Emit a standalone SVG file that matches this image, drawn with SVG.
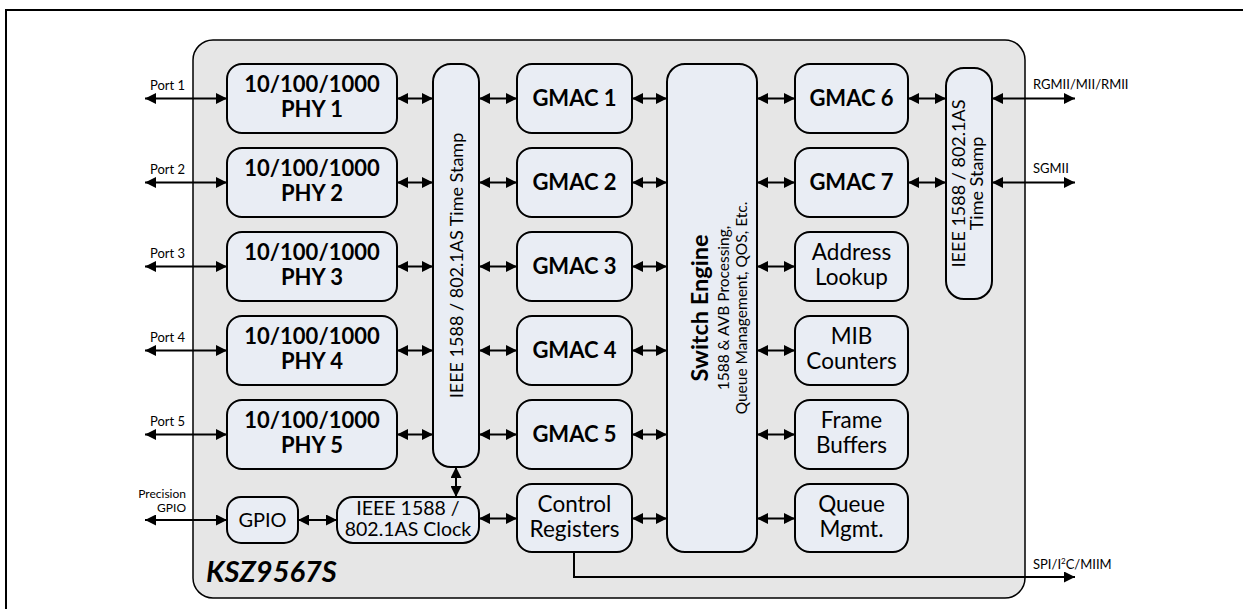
<svg xmlns="http://www.w3.org/2000/svg" width="1243" height="609" viewBox="0 0 1243 609">
<defs>
<marker id="ah" markerUnits="userSpaceOnUse" markerWidth="11" markerHeight="11" refX="10" refY="5" orient="auto-start-reverse" viewBox="0 0 10 10">
<path d="M0,0 L10,5 L0,10 z" fill="#000"/>
</marker>
</defs>
<style>
.box{fill:#e9edf4;stroke:#000;stroke-width:2}
.chip{fill:#e6e6e6;stroke:#000;stroke-width:1.5}
.c{stroke:#000;stroke-width:2;fill:none}
.dbl{marker-start:url(#ah);marker-end:url(#ah)}
.one{marker-end:url(#ah)}
text{font-family:Lato,"Open Sans","Liberation Sans",sans-serif;fill:#000}
.b{font-weight:bold;font-size:22px;text-anchor:middle}
.r{font-size:22.5px;text-anchor:middle}
.s{font-size:13px}
.v{font-size:18px;text-anchor:middle}
</style>
<rect width="1243" height="609" fill="#fff"/>
<path d="M6,609 V10 H1243" fill="none" stroke="#000" stroke-width="2"/>
<g id="chip"><rect class="chip" x="193" y="40" width="832" height="558" rx="20"/>
<text x="206" y="582" style="font-weight:bold;font-style:italic;font-size:29px">KSZ9567S</text></g>

<g id="phy1"><rect class="box" x="227" y="64" width="170" height="69" rx="15"/><text class="b" x="312" y="92">10/100/1000</text><text class="b" x="312" y="117">PHY 1</text></g>
<g id="phy2"><rect class="box" x="227" y="148" width="170" height="69" rx="15"/><text class="b" x="312" y="176">10/100/1000</text><text class="b" x="312" y="201">PHY 2</text></g>
<g id="phy3"><rect class="box" x="227" y="232" width="170" height="69" rx="15"/><text class="b" x="312" y="260">10/100/1000</text><text class="b" x="312" y="285">PHY 3</text></g>
<g id="phy4"><rect class="box" x="227" y="316" width="170" height="69" rx="15"/><text class="b" x="312" y="344">10/100/1000</text><text class="b" x="312" y="369">PHY 4</text></g>
<g id="phy5"><rect class="box" x="227" y="400" width="170" height="69" rx="15"/><text class="b" x="312" y="428">10/100/1000</text><text class="b" x="312" y="453">PHY 5</text></g>

<g id="ts1"><rect class="box" x="433" y="64" width="46" height="403" rx="18"/><text class="v" transform="translate(462.5,265.5) rotate(-90)">IEEE 1588 / 802.1AS Time Stamp</text></g>

<g id="gmac1"><rect class="box" x="517" y="64" width="115" height="69" rx="15"/><text class="b" x="574.5" y="106">GMAC 1</text></g>
<g id="gmac2"><rect class="box" x="517" y="148" width="115" height="69" rx="15"/><text class="b" x="574.5" y="190">GMAC 2</text></g>
<g id="gmac3"><rect class="box" x="517" y="232" width="115" height="69" rx="15"/><text class="b" x="574.5" y="274">GMAC 3</text></g>
<g id="gmac4"><rect class="box" x="517" y="316" width="115" height="69" rx="15"/><text class="b" x="574.5" y="358">GMAC 4</text></g>
<g id="gmac5"><rect class="box" x="517" y="400" width="115" height="69" rx="15"/><text class="b" x="574.5" y="442">GMAC 5</text></g>
<g id="ctrl"><rect class="box" x="517" y="484" width="115" height="68" rx="15"/><text class="r" x="574.5" y="512">Control</text><text class="r" x="574.5" y="537">Registers</text></g>

<g id="switch"><rect class="box" x="667" y="64" width="90" height="488" rx="18"/>
<text transform="translate(708,308) rotate(-90)" style="font-weight:bold;font-size:23.5px;text-anchor:middle">Switch Engine</text>
<text transform="translate(728.5,308) rotate(-90)" style="font-size:15.5px;text-anchor:middle">1588 &amp; AVB Processing,</text>
<text transform="translate(746.5,308) rotate(-90)" style="font-size:15.5px;text-anchor:middle">Queue Management, QOS, Etc.</text></g>

<g id="gmac6"><rect class="box" x="795" y="64" width="113" height="69" rx="15"/><text class="b" x="851.5" y="106">GMAC 6</text></g>
<g id="gmac7"><rect class="box" x="795" y="148" width="113" height="69" rx="15"/><text class="b" x="851.5" y="190">GMAC 7</text></g>
<g id="addr"><rect class="box" x="795" y="232" width="113" height="69" rx="15"/><text class="r" x="851.5" y="260">Address</text><text class="r" x="851.5" y="285">Lookup</text></g>
<g id="mib"><rect class="box" x="795" y="316" width="113" height="69" rx="15"/><text class="r" x="851.5" y="344">MIB</text><text class="r" x="851.5" y="369">Counters</text></g>
<g id="frame"><rect class="box" x="795" y="400" width="113" height="69" rx="15"/><text class="r" x="851.5" y="428">Frame</text><text class="r" x="851.5" y="453">Buffers</text></g>
<g id="queue"><rect class="box" x="795" y="484" width="113" height="68" rx="15"/><text class="r" x="851.5" y="512">Queue</text><text class="r" x="851.5" y="537">Mgmt.</text></g>

<g id="ts2"><rect class="box" x="946" y="68" width="46" height="231" rx="18"/>
<text class="v" transform="translate(965,183.5) rotate(-90)">IEEE 1588 / 802.1AS</text>
<text class="v" transform="translate(983,183.5) rotate(-90)">Time Stamp</text></g>

<g id="gpio"><rect class="box" x="227" y="497" width="71" height="46" rx="14"/><text class="r" x="262.5" y="527" style="font-size:20px">GPIO</text></g>
<g id="clock"><rect class="box" x="337" y="497" width="142" height="46" rx="16"/><text class="r" x="408" y="515" style="font-size:19.5px">IEEE 1588 /</text><text class="r" x="408" y="536" style="font-size:19.5px">802.1AS Clock</text></g>

<g id="labels">
<text class="s" x="150" y="90">Port 1</text>
<text class="s" x="150" y="174">Port 2</text>
<text class="s" x="150" y="258">Port 3</text>
<text class="s" x="150" y="342">Port 4</text>
<text class="s" x="150" y="426">Port 5</text>
<text class="s" x="186" y="498" text-anchor="end" style="font-size:12px">Precision</text>
<text class="s" x="186" y="512" text-anchor="end" style="font-size:12px">GPIO</text>
<text class="s" x="1033" y="89">RGMII/MII/RMII</text>
<text class="s" x="1033" y="173">SGMII</text>
<text class="s" x="1033" y="569">SPI/I<tspan font-size="8" dy="-5">2</tspan><tspan dy="5">C/MIIM</tspan></text>
</g>

<g id="connectors">
<line class="c dbl" x1="145" y1="98.5" x2="227" y2="98.5"/>
<line class="c dbl" x1="145" y1="182.5" x2="227" y2="182.5"/>
<line class="c dbl" x1="145" y1="266.5" x2="227" y2="266.5"/>
<line class="c dbl" x1="145" y1="350.5" x2="227" y2="350.5"/>
<line class="c dbl" x1="145" y1="434.5" x2="227" y2="434.5"/>
<line class="c dbl" x1="145" y1="520" x2="227" y2="520"/>

<line class="c dbl" x1="397" y1="98.5" x2="433" y2="98.5"/>
<line class="c dbl" x1="397" y1="182.5" x2="433" y2="182.5"/>
<line class="c dbl" x1="397" y1="266.5" x2="433" y2="266.5"/>
<line class="c dbl" x1="397" y1="350.5" x2="433" y2="350.5"/>
<line class="c dbl" x1="397" y1="434.5" x2="433" y2="434.5"/>

<line class="c dbl" x1="479" y1="98.5" x2="517" y2="98.5"/>
<line class="c dbl" x1="479" y1="182.5" x2="517" y2="182.5"/>
<line class="c dbl" x1="479" y1="266.5" x2="517" y2="266.5"/>
<line class="c dbl" x1="479" y1="350.5" x2="517" y2="350.5"/>
<line class="c dbl" x1="479" y1="434.5" x2="517" y2="434.5"/>
<line class="c dbl" x1="479" y1="518.5" x2="517" y2="518.5"/>

<line class="c dbl" x1="632" y1="98.5" x2="667" y2="98.5"/>
<line class="c dbl" x1="632" y1="182.5" x2="667" y2="182.5"/>
<line class="c dbl" x1="632" y1="266.5" x2="667" y2="266.5"/>
<line class="c dbl" x1="632" y1="350.5" x2="667" y2="350.5"/>
<line class="c dbl" x1="632" y1="434.5" x2="667" y2="434.5"/>
<line class="c dbl" x1="632" y1="518.5" x2="667" y2="518.5"/>

<line class="c dbl" x1="757" y1="98.5" x2="795" y2="98.5"/>
<line class="c dbl" x1="757" y1="182.5" x2="795" y2="182.5"/>
<line class="c dbl" x1="757" y1="266.5" x2="795" y2="266.5"/>
<line class="c dbl" x1="757" y1="350.5" x2="795" y2="350.5"/>
<line class="c dbl" x1="757" y1="434.5" x2="795" y2="434.5"/>
<line class="c dbl" x1="757" y1="518.5" x2="795" y2="518.5"/>

<line class="c dbl" x1="908" y1="98.5" x2="946" y2="98.5"/>
<line class="c dbl" x1="908" y1="182.5" x2="946" y2="182.5"/>
<line class="c dbl" x1="992" y1="98.5" x2="1075" y2="98.5"/>
<line class="c dbl" x1="992" y1="182.5" x2="1075" y2="182.5"/>

<line class="c dbl" x1="298" y1="520" x2="337" y2="520"/>
<line class="c dbl" x1="456" y1="467" x2="456" y2="497"/>
<path class="c one" d="M574,552 V577 H1075"/>
</g>
</svg>
